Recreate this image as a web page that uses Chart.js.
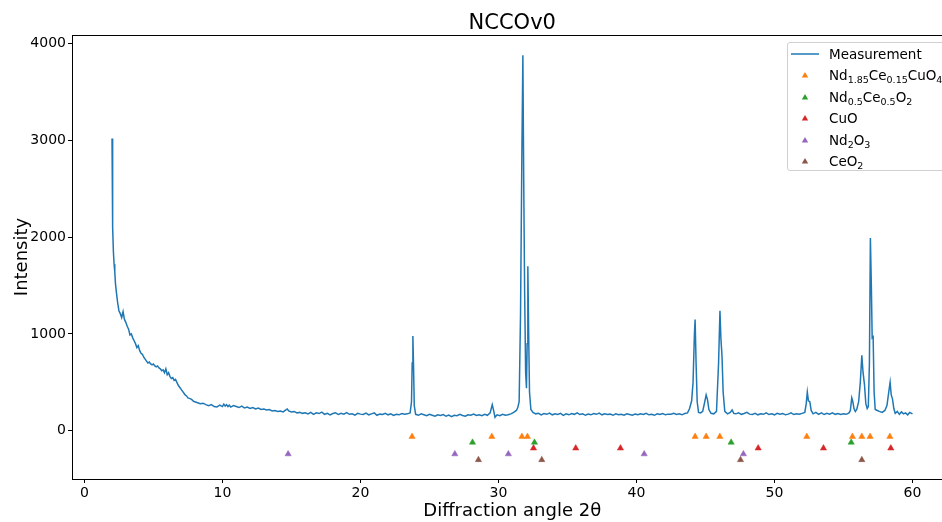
<!DOCTYPE html>
<html>
<head>
<meta charset="utf-8">
<script src="https://cdn.jsdelivr.net/npm/chart.js@4.4.1/dist/chart.umd.min.js"></script>
<style>
    html, body { margin: 0; padding: 0; background: #fff; overflow: hidden; }
    #wrap { position: relative; width: 942px; height: 522px; overflow: hidden; }
    #xrd { position: absolute; left: 0; top: 0; }
    #legend {
        position: absolute; left: 787px; top: 42px; width: 170px; height: 129px;
        border: 1px solid #d0d0d0; border-radius: 3px; background: rgba(255,255,255,0.85);
        font-family: "DejaVu Sans", sans-serif; font-size: 13.5px; color: #000;
        box-sizing: border-box;
    }
    .entry { position: absolute; left: 0; height: 20px; line-height: 20px; white-space: nowrap; }
    .entry .lbl { position: absolute; left: 41px; top: 0; }
    .entry svg { position: absolute; left: 3px; top: 0; }
    sub { font-size: 9.5px; vertical-align: -3px; line-height: 0; }
</style>
</head>
<body>
<div id="wrap">
    <canvas id="xrd" width="957" height="522"></canvas>
    <div id="legend"></div>
</div>
<script>
// measured pattern (2theta in degrees, counts)
const angles = [
    2.00, 2.03, 2.06, 2.10, 2.15, 2.20, 2.25, 2.30, 2.40, 2.50, 2.60, 2.70, 2.80, 2.90, 3.00,
    3.10, 3.20, 3.30, 3.40, 3.50, 3.60, 3.70, 3.80, 3.90, 4.00, 4.10, 4.20, 4.30, 4.40, 4.50,
    4.60, 4.70, 4.80, 4.90, 5.00, 5.10, 5.20, 5.30, 5.40, 5.50, 5.60, 5.70, 5.80, 5.90, 6.00,
    6.10, 6.20, 6.30, 6.40, 6.50, 6.60, 6.70, 6.80, 6.90, 7.00, 7.10, 7.20, 7.30, 7.40, 7.50,
    7.60, 7.70, 7.80, 7.90, 8.00, 8.20, 8.40, 8.60, 8.80, 9.00, 9.20, 9.40, 9.60, 9.80, 10.0,
    10.1, 10.2, 10.3, 10.4, 10.5, 10.6, 10.8, 11.0, 11.2, 11.4, 11.6, 11.8, 12.0, 12.2, 12.4,
    12.6, 12.8, 13.0, 13.2, 13.4, 13.6, 13.8, 14.0, 14.2, 14.4, 14.6, 14.7, 14.8, 15.0, 15.2,
    15.4, 15.6, 15.8, 16.0, 16.2, 16.4, 16.6, 16.8, 17.0, 17.2, 17.4, 17.6, 17.8, 18.0, 18.2,
    18.4, 18.6, 18.8, 19.0, 19.2, 19.4, 19.6, 19.8, 20.0, 20.2, 20.4, 20.6, 20.8, 21.0, 21.2,
    21.4, 21.6, 21.8, 22.0, 22.2, 22.4, 22.6, 22.8, 23.0, 23.2, 23.4, 23.6, 23.7, 23.75, 23.8,
    23.85, 23.9, 24.0, 24.2, 24.4, 24.6, 24.8, 25.0, 25.2, 25.4, 25.6, 25.8, 26.0, 26.2, 26.4,
    26.6, 26.8, 27.0, 27.2, 27.4, 27.6, 27.8, 28.0, 28.2, 28.4, 28.6, 28.8, 29.0, 29.2, 29.4,
    29.55, 29.65, 29.75, 29.9, 30.1, 30.3, 30.5, 30.7, 30.9, 31.1, 31.3, 31.4, 31.5, 31.6, 31.7,
    31.77, 31.83, 31.9, 31.97, 32.03, 32.08, 32.13, 32.18, 32.25, 32.35, 32.5, 32.7, 32.9, 33.1, 33.3,
    33.5, 33.7, 33.9, 34.1, 34.3, 34.5, 34.7, 34.9, 35.1, 35.3, 35.5, 35.7, 35.9, 36.1, 36.3,
    36.5, 36.7, 36.9, 37.1, 37.3, 37.5, 37.7, 37.9, 38.1, 38.3, 38.5, 38.7, 38.9, 39.1, 39.3,
    39.5, 39.7, 39.9, 40.1, 40.3, 40.5, 40.7, 40.9, 41.1, 41.3, 41.5, 41.7, 41.9, 42.1, 42.3,
    42.5, 42.7, 42.9, 43.1, 43.3, 43.5, 43.7, 43.85, 44.0, 44.1, 44.2, 44.25, 44.32, 44.4, 44.5,
    44.65, 44.8, 44.95, 45.05, 45.15, 45.25, 45.4, 45.6, 45.8, 45.95, 46.05, 46.12, 46.2, 46.28, 46.4,
    46.6, 46.8, 46.93, 47.05, 47.2, 47.4, 47.6, 47.8, 48.0, 48.2, 48.4, 48.6, 48.8, 49.0, 49.2,
    49.4, 49.6, 49.8, 50.0, 50.2, 50.4, 50.6, 50.8, 51.0, 51.2, 51.4, 51.6, 51.8, 52.0, 52.2,
    52.3, 52.38, 52.46, 52.56, 52.66, 52.8, 53.0, 53.2, 53.4, 53.6, 53.8, 54.0, 54.2, 54.4, 54.6,
    54.8, 55.0, 55.2, 55.4, 55.5, 55.6, 55.68, 55.76, 55.86, 55.96, 56.1, 56.22, 56.33, 56.42, 56.52,
    56.62, 56.72, 56.8, 56.88, 56.95, 57.02, 57.08, 57.15, 57.22, 57.3, 57.45, 57.6, 57.8, 58.0, 58.15,
    58.3, 58.38, 58.46, 58.55, 58.65, 58.75, 58.9, 59.05, 59.2, 59.35, 59.5, 59.65, 59.8, 60.0
];
const intensity = [
    3020, 2600, 2100, 1850, 1720, 1640, 1520, 1450, 1330, 1240, 1210, 1170, 1230, 1150, 1120,
    1080, 1050, 990, 1000, 960, 930, 900, 860, 880, 830, 800, 790, 760, 740, 720,
    700, 710, 690, 680, 690, 670, 660, 670, 650, 640, 620, 630, 600, 640, 580,
    600, 560, 540, 550, 520, 530, 500, 470, 450, 430, 410, 390, 370, 360, 340,
    335, 330, 320, 305, 300, 290, 280, 285, 270, 260, 270, 250, 245, 265, 250,
    275, 255, 270, 250, 265, 245, 260, 250, 240, 255, 235, 245, 230, 240, 225,
    235, 220, 225, 215, 220, 205, 210, 200, 205, 195, 215, 225, 205, 195, 200,
    185, 190, 180, 185, 175, 190, 170, 185, 178, 192, 170, 180, 165, 178, 185,
    168, 180, 172, 188, 170, 175, 162, 180, 172, 168, 182, 165, 175, 185, 160,
    172, 168, 180, 165, 175, 158, 170, 165, 178, 170, 175, 185, 300, 700, 980,
    650, 260, 170, 160, 175, 165, 155, 170, 160, 150, 165, 158, 168, 150, 162,
    145, 160, 155, 170, 158, 150, 165, 160, 172, 158, 165, 155, 170, 160, 185,
    270, 210, 140, 165, 155, 170, 160, 165, 175, 190, 210, 240, 300, 1200, 2900,
    3880, 2600, 1400, 600, 440, 900, 1700, 1100, 400, 220, 190, 175, 180, 165, 178,
    170, 182, 165, 175, 168, 180, 160, 175, 165, 178, 170, 185, 168, 175, 160,
    172, 165, 178, 170, 182, 165, 175, 168, 172, 160, 175, 165, 170, 162, 175,
    168, 160, 172, 165, 175, 168, 180, 165, 170, 160, 175, 168, 178, 165, 172,
    170, 180, 168, 175, 165, 178, 185, 230, 310, 500, 1000, 1150, 700, 300, 190,
    185, 200, 300, 370, 320, 220, 180, 175, 200, 700, 1240, 950, 770, 400, 200,
    175, 190, 215, 180, 175, 185, 170, 178, 190, 172, 168, 180, 165, 175, 170,
    185, 168, 175, 165, 180, 170, 178, 165, 172, 185, 168, 175, 170, 180, 190,
    280, 400, 310, 300, 210, 175, 190, 170, 185, 168, 180, 172, 185, 170, 178,
    168, 175, 170, 185, 210, 340, 300, 230, 200, 220, 300, 500, 780, 600, 480,
    280, 230, 250, 700, 1990, 1500, 960, 970, 400, 220, 210, 200, 190, 210, 260,
    420, 500, 370, 330, 230, 180, 200, 170, 195, 175, 185, 165, 190, 175
];

// reference reflections per phase, drawn below the pattern
const ncco = [23.74, 29.52, 31.70, 32.10, 44.25, 45.05, 46.04, 52.34, 55.65, 56.33, 56.93, 58.36];
const ndCeO2 = [28.12, 32.61, 46.86, 55.56];
const cuo = [32.54, 35.60, 38.84, 48.82, 53.55, 58.43];
const nd2o3 = [14.76, 26.84, 30.72, 40.56, 47.75];
const ceo2 = [28.55, 33.14, 47.54, 56.33];
const markerLevels = [-60, -120, -180, -240, -300];

const xTicks = [0, 10, 20, 30, 40, 50, 60];
const yTicks = [0, 1000, 2000, 3000, 4000];

const phases = [
    { label: "Nd<sub>1.85</sub>Ce<sub>0.15</sub>CuO<sub>4</sub>", text: "Nd1.85Ce0.15CuO4", pos: ncco, color: "#ff7f0e" },
    { label: "Nd<sub>0.5</sub>Ce<sub>0.5</sub>O<sub>2</sub>", text: "Nd0.5Ce0.5O2", pos: ndCeO2, color: "#2ca02c" },
    { label: "CuO", text: "CuO", pos: cuo, color: "#d62728" },
    { label: "Nd<sub>2</sub>O<sub>3</sub>", text: "Nd2O3", pos: nd2o3, color: "#9467bd" },
    { label: "CeO<sub>2</sub>", text: "CeO2", pos: ceo2, color: "#8c564b" }
];

const FONT = "'DejaVu Sans', sans-serif";

const datasets = [{
    label: "Measurement",
    data: angles.map((a, i) => ({ x: a, y: intensity[i] })),
    showLine: true,
    borderColor: "#1f77b4",
    borderWidth: 1.5,
    pointRadius: 0,
    tension: 0,
    order: 1
}];
phases.forEach((p, k) => {
    datasets.push({
        label: p.text,
        data: p.pos.map(a => ({ x: a, y: markerLevels[k] })),
        showLine: false,
        pointStyle: "triangle",
        pointRadius: 3.6,
        backgroundColor: p.color,
        borderColor: p.color,
        borderWidth: 0.5,
        order: 0
    });
});

// frame + title centred over the axes, like matplotlib does it
const framePlugin = {
    id: "frame",
    afterDraw(chart) {
        const { ctx, chartArea: a } = chart;
        ctx.save();
        ctx.strokeStyle = "#000";
        ctx.lineWidth = 1;
        ctx.strokeRect(Math.round(a.left) + 0.5, Math.round(a.top) + 0.5,
            Math.round(a.right - a.left), Math.round(a.bottom - a.top));
        ctx.fillStyle = "#000";
        ctx.font = "21px " + FONT;
        ctx.textAlign = "center";
        ctx.textBaseline = "middle";
        ctx.fillText("NCCOv0", (a.left + a.right) / 2, 24);
        ctx.restore();
    }
};

new Chart(document.getElementById("xrd"), {
    type: "scatter",
    data: { datasets },
    options: {
        responsive: false,
        animation: false,
        layout: { padding: { top: 35, right: 0, left: 0, bottom: 0 } },
        plugins: {
            legend: { display: false },
            tooltip: { enabled: false }
        },
        scales: {
            x: {
                type: "linear",
                min: -0.9,
                max: 62.9,
                afterFit: s => { s.height = 43; },
                afterBuildTicks: s => { s.ticks = xTicks.map(v => ({ value: v })); },
                grid: { drawOnChartArea: false, drawTicks: true, tickLength: 4, color: "#000" },
                border: { display: false },
                ticks: { color: "#000", font: { family: FONT, size: 14 }, padding: 2, callback: v => String(v) },
                title: {
                    display: true, text: "Diffraction angle 2θ", color: "#000",
                    font: { family: FONT, size: 18 }, padding: { top: 0, bottom: 0 }
                }
            },
            y: {
                type: "linear",
                min: -498,
                max: 4088,
                afterFit: s => { s.width = 72; },
                afterBuildTicks: s => { s.ticks = yTicks.map(v => ({ value: v })); },
                grid: { drawOnChartArea: false, drawTicks: true, tickLength: 4, color: "#000" },
                border: { display: false },
                ticks: { color: "#000", font: { family: FONT, size: 14 }, padding: 2, callback: v => String(v) },
                title: {
                    display: true, text: "Intensity", color: "#000",
                    font: { family: FONT, size: 18 }, padding: { top: 12, bottom: 0 }
                }
            }
        }
    },
    plugins: [framePlugin]
});

// html legend so the formulas keep their subscripts
const legend = document.getElementById("legend");
const rows = [{ label: "Measurement", line: true, color: "#1f77b4" }].concat(phases);
rows.forEach((r, i) => {
    const div = document.createElement("div");
    div.className = "entry";
    div.style.top = (1 + i * 21.4) + "px";
    const icon = r.line
        ? '<svg width="30" height="20"><line x1="0" y1="10" x2="28" y2="10" stroke="' + r.color + '" stroke-width="1.5"/></svg>'
        : '<svg width="30" height="20"><polygon points="14,7 17.2,12.6 10.8,12.6" fill="' + r.color + '"/></svg>';
    div.innerHTML = icon + '<span class="lbl">' + r.label + '</span>';
    legend.appendChild(div);
});
</script>
</body>
</html>
